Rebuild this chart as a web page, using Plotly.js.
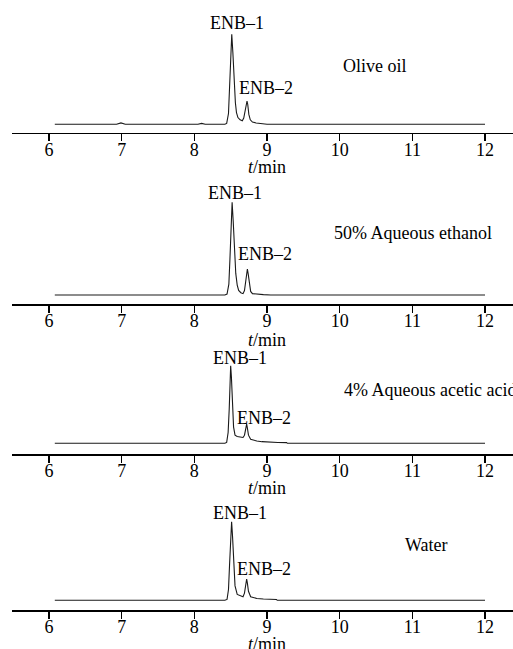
<!DOCTYPE html>
<html>
<head>
<meta charset="utf-8">
<script src="https://cdn.plot.ly/plotly-3.0.1.min.js"></script>
<style>
  html, body { margin: 0; padding: 0; background: #fff; }
  #chart { width: 513px; height: 649px; }
</style>
</head>
<body>
<div id="chart"></div>
<script>
// ---------------- data ----------------
const panelNames = ["Olive oil", "50% Aqueous ethanol", "4% Aqueous acetic acid", "Water"];
const peakNames = ["ENB\u20131", "ENB\u20132"];
const tickValues = [6, 7, 8, 9, 10, 11, 12];
const axisTitle = "<i>t</i>/min";

// Olive oil
const tOlive = [6.08, 6.60, 6.71, 6.75, 6.79, 6.93, 6.99, 7.05, 7.62, 7.71, 7.75, 7.79, 8.05, 8.10, 8.15,
  8.42, 8.445, 8.47, 8.485, 8.50, 8.515, 8.53, 8.55, 8.565, 8.58, 8.60, 8.63, 8.66, 8.68, 8.70, 8.715,
  8.725, 8.735, 8.75, 8.77, 8.80, 8.85, 8.92, 9.00, 12.0];
const sOlive = [0, 0, 0, 0.5, 0, 0, 1.6, 0, 0, 0, 0.8, 0, 0, 1.0, 0,
  0, 1, 12, 40, 82, 100, 80, 45, 24, 13, 7.5, 5, 4, 7, 17, 24,
  25.9, 22, 11, 5, 2.5, 1.5, 0.8, 0, 0];

// 50% aqueous ethanol
const tEthanol = [6.08, 6.95, 7.0, 7.05, 7.40, 7.45, 7.50, 7.70, 7.75, 7.80, 8.05, 8.10, 8.15,
  8.42, 8.45, 8.475, 8.49, 8.505, 8.52, 8.535, 8.555, 8.57, 8.59, 8.61, 8.64, 8.67, 8.69, 8.71, 8.72,
  8.73, 8.74, 8.755, 8.775, 8.80, 8.86, 8.95, 9.05, 12.0];
const sEthanol = [0, 0, 0.3, 0, 0, 0.3, 0, 0, 0.5, 0, 0, 0.4, 0,
  0, 1, 12, 40, 82, 103, 82, 45, 24, 11, 5, 2.5, 1.5, 5, 16, 25,
  28.9, 24, 12, 4, 1.5, 0.8, 0.4, 0, 0];

// 4% aqueous acetic acid
const tAcetic = [6.08, 8.42, 8.445, 8.465, 8.48, 8.49, 8.50, 8.51, 8.525, 8.54, 8.56, 8.59, 8.63, 8.67,
  8.69, 8.71, 8.72, 8.73, 8.745, 8.775, 8.82, 8.86, 8.93, 9.00, 9.15, 9.27, 9.28, 12.0];
const sAcetic = [0, 0, 1, 12, 38, 64, 86, 74, 40, 18, 9, 7.5, 7, 6.5,
  9, 18, 21.4, 17, 9, 4.5, 3, 2.5, 1.8, 1.3, 0.9, 0.7, 0, 0];

// Water
const tWater = [6.08, 8.42, 8.45, 8.47, 8.485, 8.50, 8.513, 8.525, 8.54, 8.56, 8.59, 8.63, 8.67,
  8.69, 8.71, 8.72, 8.73, 8.745, 8.775, 8.82, 8.86, 8.95, 9.05, 9.13, 9.14, 12.0];
const sWater = [0, 0, 1, 12, 40, 72, 87.3, 72, 38, 16, 6.5, 4.8, 4,
  8, 19, 23.7, 19, 10, 4, 2.5, 2, 1.5, 1.1, 0.9, 0, 0];

// annotation anchors (data units of each panel)
const enb1Label = [[8.584, 112.6], [8.566, 113.3], [8.628, 94.8], [8.628, 97.0]];
const enb2Label = [[8.982, 40.0], [8.968, 45.2], [8.963, 28.1], [8.963, 34.4]];
const nameLabel = [[10.49, 64.8, "center"], [11.01, 69.2, "center"], [10.03, 59.2, "left"], [11.19, 61.4, "center"]];
// axis-title anchors: x in data units, y as fraction of the page height
const titleLabel = [[9.0, 0.7427], [9.0, 0.4761], [9.0, 0.2481], [9.0, 0.0077]];

// ---------------- layout ----------------
const series = [[tOlive, sOlive], [tEthanol, sEthanol], [tAcetic, sAcetic], [tWater, sWater]];
const yDomains = [[0.79553, 0.98043], [0.53112, 0.71602], [0.30046, 0.48536], [0.06009, 0.24499]];
const yRanges = [[-9.33, 124.0], [-10.33, 123.0], [-11.9, 121.4], [-10.8, 122.6]];
const serif = "'Liberation Serif', 'Times New Roman', Times, serif";
const txtFont = {family: serif, size: 18, color: "#000"};

const traces = [];
const layout = {
  width: 513, height: 649,
  margin: {l: 12, r: 0, t: 0, b: 0},
  paper_bgcolor: "#fff", plot_bgcolor: "#fff",
  showlegend: false,
  font: txtFont,
  annotations: []
};

series.forEach((s, i) => {
  const n = i === 0 ? "" : String(i + 1);
  const xr = "x" + n, yr = "y" + n;
  traces.push({
    x: s[0], y: s[1], type: "scatter", mode: "lines",
    xaxis: xr, yaxis: yr,
    line: {color: "#1a1a1a", width: 1.1},
    hoverinfo: "skip"
  });
  layout["xaxis" + n] = {
    domain: [0, 1], anchor: yr, range: [5.491, 12.385],
    showline: true, linecolor: "#000", linewidth: 1.5,
    ticks: "outside", ticklen: 7, tickwidth: 1.5, tickcolor: "#000",
    tickvals: tickValues, ticktext: tickValues.map(String),
    tickfont: txtFont, ticklabelstandoff: -7,
    showgrid: false, zeroline: false, fixedrange: true
  };
  layout["yaxis" + n] = {
    domain: yDomains[i], anchor: xr, range: yRanges[i],
    visible: false, fixedrange: true
  };
  layout.annotations.push({xref: xr, yref: "paper", x: titleLabel[i][0], y: titleLabel[i][1],
    text: axisTitle, showarrow: false, xanchor: "center", yanchor: "middle", font: txtFont});
  layout.annotations.push({xref: xr, yref: yr, x: enb1Label[i][0], y: enb1Label[i][1],
    text: peakNames[0], showarrow: false, xanchor: "center", yanchor: "middle", font: txtFont});
  layout.annotations.push({xref: xr, yref: yr, x: enb2Label[i][0], y: enb2Label[i][1],
    text: peakNames[1], showarrow: false, xanchor: "center", yanchor: "middle", font: txtFont});
  layout.annotations.push({xref: xr, yref: yr, x: nameLabel[i][0], y: nameLabel[i][1],
    text: panelNames[i], showarrow: false, xanchor: nameLabel[i][2], yanchor: "middle", font: txtFont});
});

Plotly.newPlot("chart", traces, layout, {displayModeBar: false, staticPlot: true});
</script>
</body>
</html>
